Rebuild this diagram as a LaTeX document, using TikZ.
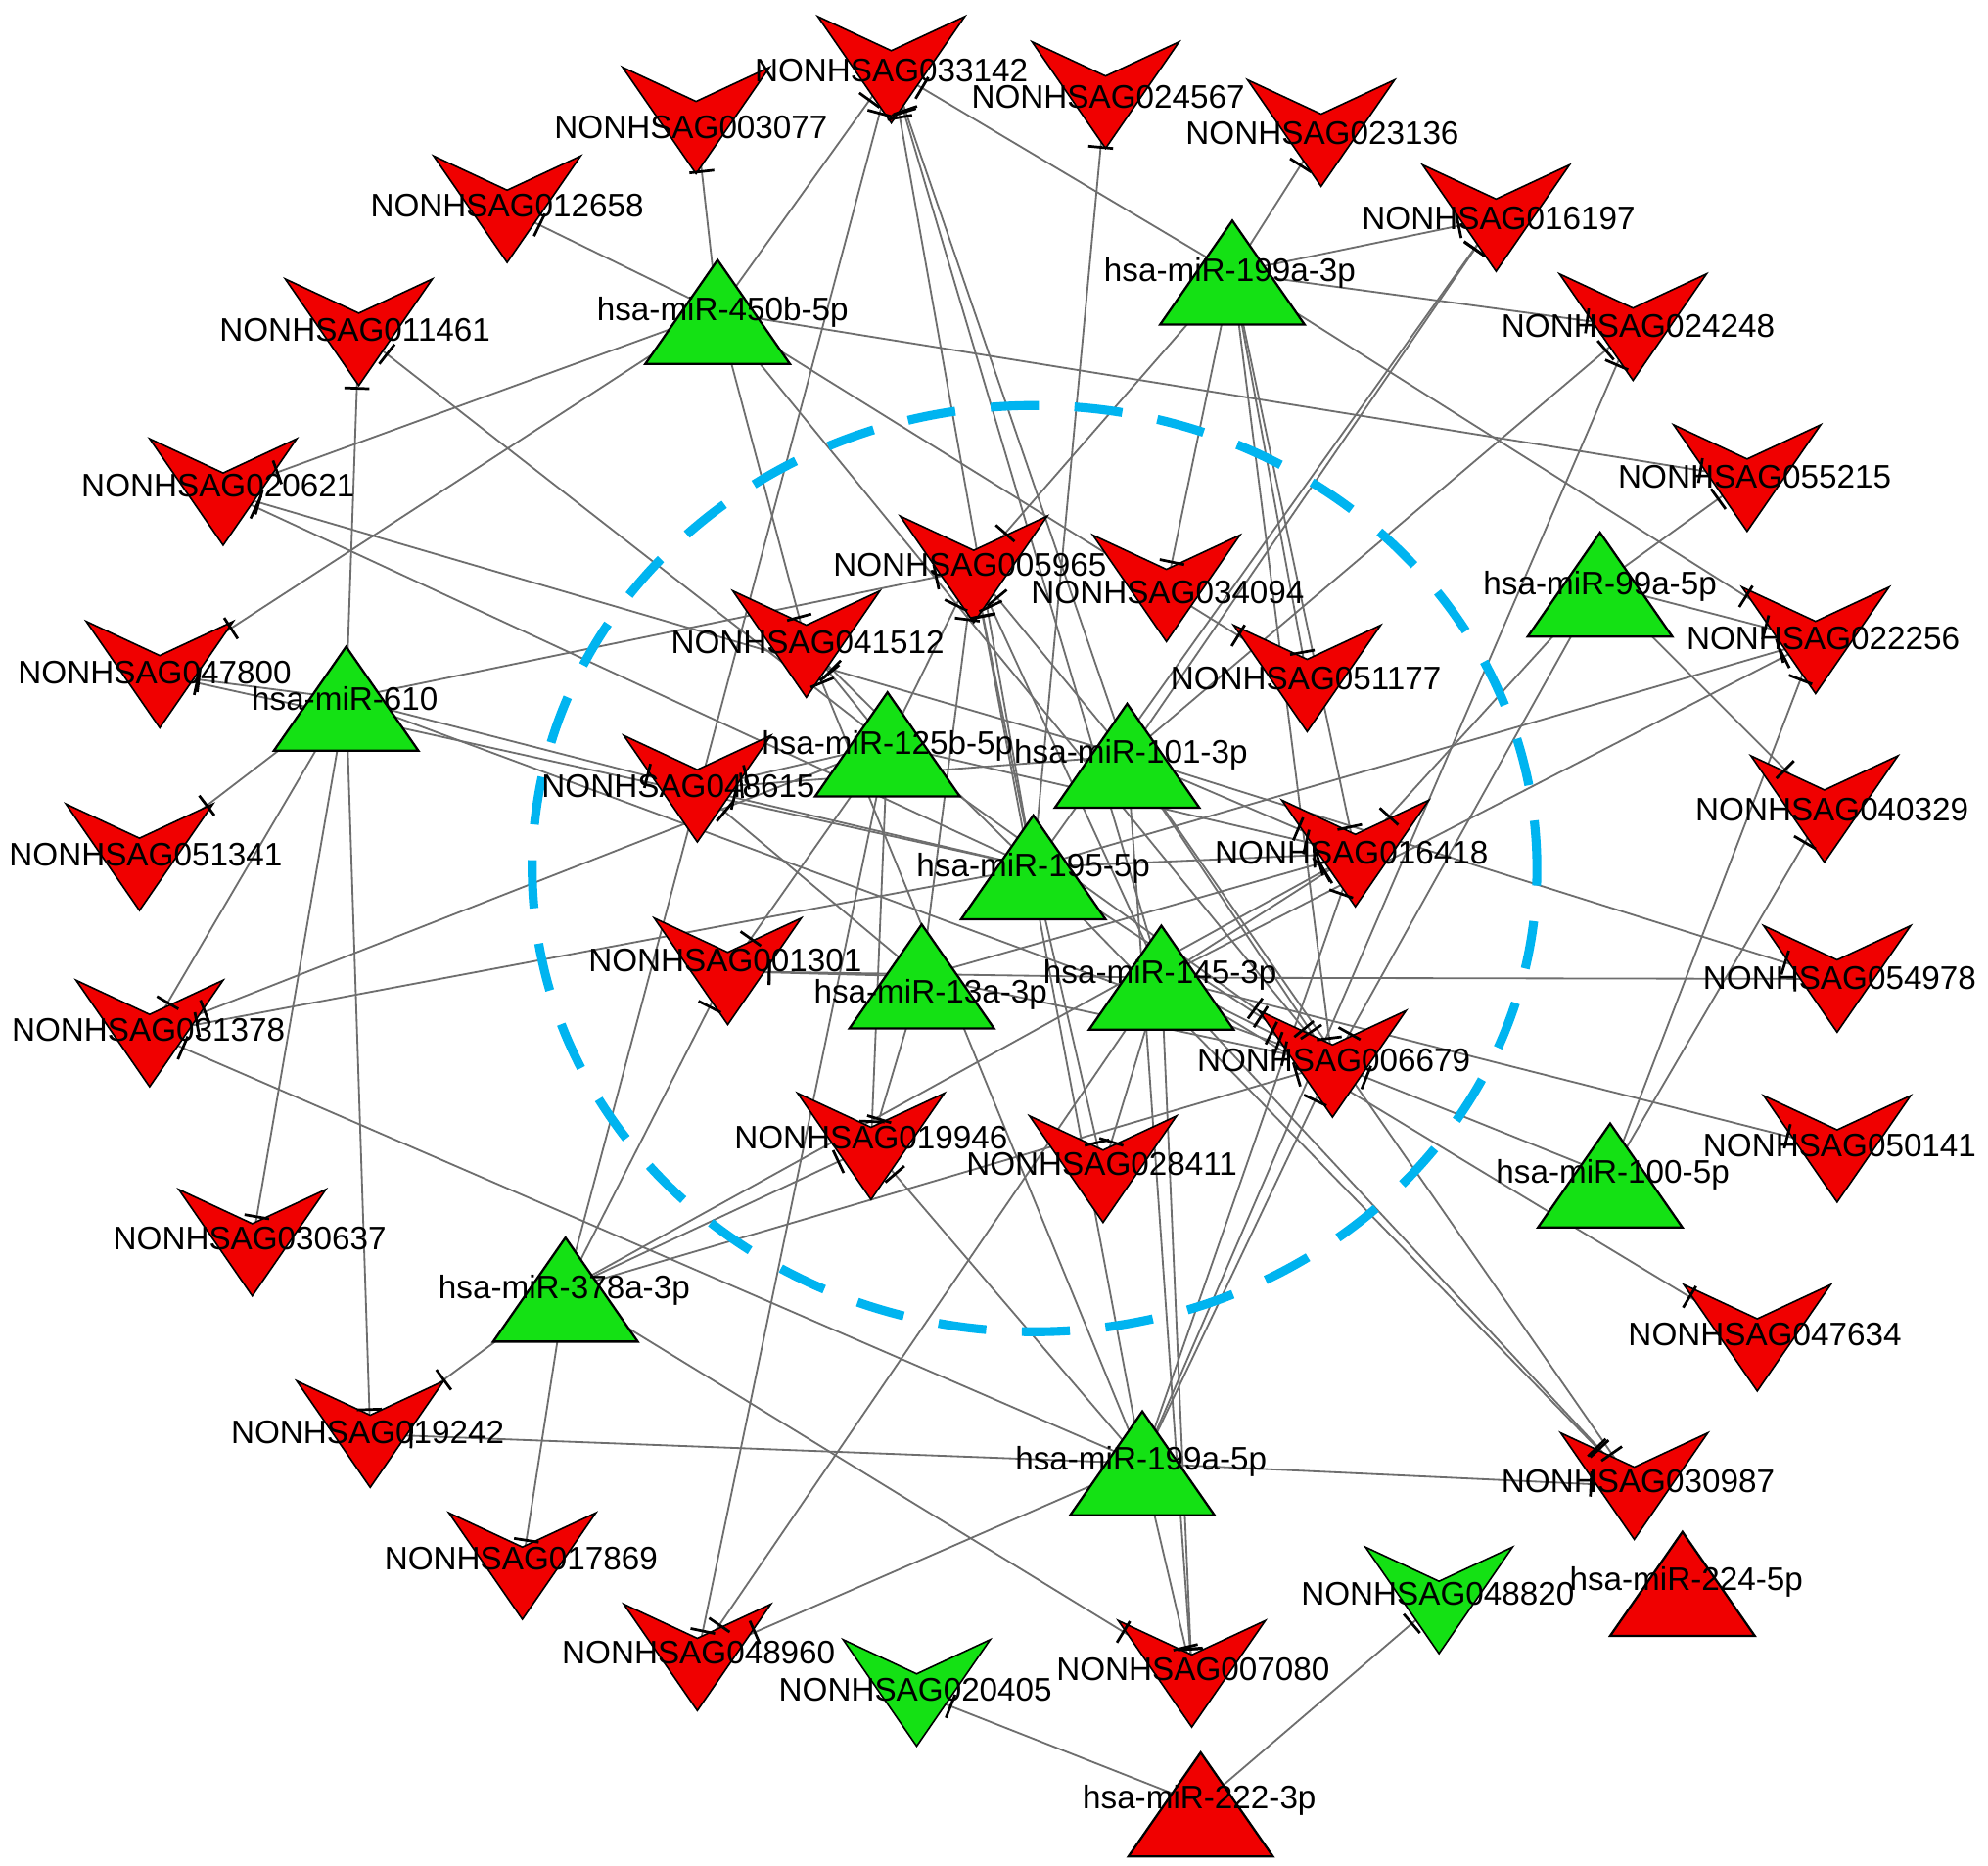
\documentclass[tikz,border=0pt]{standalone}
\usepackage{fontspec}
\setmainfont{Liberation Sans}
\usetikzlibrary{calc,intersections}
\pgfdeclarelayer{bg}\pgfdeclarelayer{fg}\pgfdeclarelayer{top}
\pgfsetlayers{bg,main,fg,top}
\definecolor{vred}{RGB}{240,0,0}
\definecolor{tgreen}{RGB}{20,225,20}
\definecolor{edgegray}{RGB}{110,110,110}
\definecolor{circblue}{RGB}{0,180,240}
\tikzset{
  vshape/.style={draw=black, line width=0.35pt, line join=miter},
  tshape/.style={draw=black, line width=0.5pt, line join=miter},
  edgeline/.style={draw=edgegray, line width=0.4pt},
  tbar/.style={draw=black, line width=0.6pt},
  lbl/.style={inner sep=0pt, font=\fontsize{7.3}{8.8}\selectfont, text height=5.2pt, text depth=0pt},
  circ/.style={draw=circblue, line width=2pt, dash pattern=on 10.8pt off 8pt},
}
\newcommand\lnk[2]{%
  \path[name path=tmpe] (#1) -- (#2);
  \path[name intersections={of=tmpe and out-#2, sort by=tmpe, by={ip}}];
  \coordinate (ipc) at ($(ip)!1.2pt!(#1)$);
  \begin{pgfonlayer}{bg}\draw[edgeline] (#1) -- (#2);\end{pgfonlayer}
  \begin{pgfonlayer}{fg}\draw[tbar] ($(ipc)!2.8pt!90:(#1)$) -- ($(ipc)!2.8pt!-90:(#1)$);\end{pgfonlayer}
}
\begin{document}
\begin{tikzpicture}[x=0.01cm,y=-0.01cm]
\useasboundingbox (0,0) rectangle (1568,1471);
\begin{pgfonlayer}{bg}\fill[white] (0,0) rectangle (1568,1471);\end{pgfonlayer}
% lncRNA nodes
\coordinate (a033142) at (703,55);
\coordinate (a024567) at (872,75);
\coordinate (a003077) at (549,95);
\coordinate (a023136) at (1042,105);
\coordinate (a012658) at (400,165);
\coordinate (a016197) at (1180,172);
\coordinate (a011461) at (283,262);
\coordinate (a024248) at (1288,258);
\coordinate (a020621) at (176,388);
\coordinate (a055215) at (1378,377);
\coordinate (a005965) at (768,449);
\coordinate (a034094) at (920,464);
\coordinate (a041512) at (636,508);
\coordinate (a051177) at (1031,535);
\coordinate (a047800) at (126,532);
\coordinate (a022256) at (1432,505);
\coordinate (a048615) at (550,622);
\coordinate (a051341) at (110,676);
\coordinate (a040329) at (1439,638);
\coordinate (a016418) at (1069,673);
\coordinate (a001301) at (574,766);
\coordinate (a054978) at (1449,772);
\coordinate (a031378) at (118,815);
\coordinate (a006679) at (1051,839);
\coordinate (a050141) at (1449,906);
\coordinate (a019946) at (687,904);
\coordinate (a028411) at (870,922);
\coordinate (a030637) at (199,980);
\coordinate (a047634) at (1386,1055);
\coordinate (a019242) at (292,1131);
\coordinate (a030987) at (1289,1172);
\coordinate (a017869) at (412,1235);
\coordinate (a048960) at (550,1307);
\coordinate (a007080) at (940,1320);
\coordinate (a020405) at (723,1335);
\coordinate (a048820) at (1135,1262);
% miRNA nodes
\coordinate (m450b) at (566,246);
\coordinate (m199a3) at (972,215);
\coordinate (m99a) at (1262,461);
\coordinate (m610) at (273,551);
\coordinate (m125b) at (700,587);
\coordinate (m101) at (889,596);
\coordinate (m195) at (815,684);
\coordinate (m13a) at (727,770);
\coordinate (m145) at (916,771);
\coordinate (m100) at (1270,927);
\coordinate (m378a) at (446,1017);
\coordinate (m199a5) at (901,1154);
\coordinate (m224) at (1327,1249);
\coordinate (m222) at (947,1423);
% dashed circle
\draw[circ] (816,685) ellipse [x radius=3.96cm, y radius=3.65cm];
% shapes
\foreach \n/\c in {a033142/vred,a024567/vred,a003077/vred,a023136/vred,a012658/vred,
  a016197/vred,a011461/vred,a024248/vred,a020621/vred,a055215/vred,a005965/vred,
  a034094/vred,a041512/vred,a051177/vred,a047800/vred,a022256/vred,a048615/vred,
  a051341/vred,a040329/vred,a016418/vred,a001301/vred,a054978/vred,a031378/vred,
  a006679/vred,a050141/vred,a019946/vred,a028411/vred,a030637/vred,a047634/vred,
  a019242/vred,a030987/vred,a017869/vred,a048960/vred,a007080/vred,
  a020405/tgreen,a048820/tgreen}
  \filldraw[vshape, fill=\c, name path global=out-\n, shift={(\n)}]
    (-58,-42) -- (0,-15) -- (58,-42) -- (0,42) -- cycle;
\foreach \n/\c in {m450b/tgreen,m199a3/tgreen,m99a/tgreen,m610/tgreen,m125b/tgreen,
  m101/tgreen,m195/tgreen,m13a/tgreen,m145/tgreen,m100/tgreen,m378a/tgreen,
  m199a5/tgreen,m224/vred,m222/vred}
  \filldraw[tshape, fill=\c, shift={(\n)}] (-57,41) -- (0,-41) -- (57,41) -- cycle;
% connectors
\foreach \s/\t in {
  m450b/a003077,m450b/a012658,m450b/a033142,m450b/a020621,m450b/a047800,m450b/a041512,
  m450b/a006679,m450b/a051177,m450b/a055215,
  m199a3/a033142,m199a3/a023136,m199a3/a016197,m199a3/a024248,m199a3/a022256,
  m199a3/a005965,m199a3/a034094,m199a3/a051177,m199a3/a016418,m199a3/a006679,
  m99a/a055215,m99a/a022256,m99a/a040329,m99a/a016418,m99a/a006679,
  m610/a011461,m610/a047800,m610/a051341,m610/a031378,m610/a030637,m610/a019242,
  m610/a005965,m610/a006679,m610/a048615,
  m125b/a011461,m125b/a041512,m125b/a031378,m125b/a048960,m125b/a048615,m125b/a005965,
  m125b/a016418,m125b/a006679,m125b/a019946,m125b/a001301,
  m101/a020621,m101/a016197,m101/a033142,m101/a054978,m101/a030987,m101/a007080,
  m101/a005965,m101/a016418,m101/a006679,m101/a048615,m101/a024248,
  m195/a020621,m195/a033142,m195/a024567,m195/a016197,m195/a022256,m195/a031378,
  m195/a047800,m195/a030987,m195/a005965,m195/a016418,m195/a006679,m195/a048615,
  m195/a041512,m195/a028411,
  m13a/a005965,m13a/a016418,m13a/a006679,m13a/a019946,m13a/a001301,m13a/a048615,
  m145/a033142,m145/a054978,m145/a050141,m145/a047634,m145/a048960,m145/a007080,
  m145/a022256,m145/a030987,m145/a016418,m145/a006679,m145/a028411,m145/a005965,
  m145/a001301,
  m100/a022256,m100/a040329,m100/a006679,
  m378a/a033142,m378a/a017869,m378a/a019242,m378a/a007080,m378a/a001301,
  m378a/a019946,m378a/a016418,m378a/a006679,
  m199a5/a031378,m199a5/a019242,m199a5/a048960,m199a5/a030987,m199a5/a007080,
  m199a5/a019946,m199a5/a041512,m199a5/a005965,m199a5/a016418,m199a5/a006679,
  m199a5/a024248,
  m222/a020405,m222/a048820}
  {\lnk{\s}{\t}}
% labels
\begin{pgfonlayer}{top}
\foreach \n/\x/\y/\t in {
  a033142/703/55/NONHSAG033142, a024567/874/76/NONHSAG024567, a003077/545/100/NONHSAG003077,
  a023136/1043/105/NONHSAG023136, a012658/400/162/NONHSAG012658, a016197/1182/172/NONHSAG016197,
  a011461/280/260/NONHSAG011461, a024248/1292/257/NONHSAG024248, a020621/172/383/NONHSAG020621,
  a055215/1384/376/NONHSAG055215, a005965/765/445/NONHSAG005965, a034094/921/467/NONHSAG034094,
  a041512/637/506/NONHSAG041512, a051177/1030/535/NONHSAG051177, a047800/122/530/NONHSAG047800,
  a022256/1438/503/NONHSAG022256, a048615/535/620/NONHSAG048615, a051341/115/674/NONHSAG051341,
  a040329/1445/638/NONHSAG040329, a016418/1066/672/NONHSAG016418, a001301/572/757/NONHSAG001301,
  a054978/1451/771/NONHSAG054978, a031378/117/812/NONHSAG031378, a006679/1052/836/NONHSAG006679,
  a050141/1451/903/NONHSAG050141, a019946/687/897/NONHSAG019946, a028411/869/918/NONHSAG028411,
  a030637/197/976/NONHSAG030637, a047634/1392/1052/NONHSAG047634, a019242/290/1129/NONHSAG019242,
  a030987/1292/1168/NONHSAG030987, a017869/411/1229/NONHSAG017869, a048960/551/1303/NONHSAG048960,
  a007080/941/1316/NONHSAG007080, a020405/722/1332/NONHSAG020405, a048820/1134/1257/NONHSAG048820,
  m450b/570/244/hsa-miR-450b-5p, m199a3/970/213/hsa-miR-199a-3p, m99a/1262/460/hsa-miR-99a-5p,
  m610/272/551/hsa-miR-610, m125b/700/586/hsa-miR-125b-5p, m101/892/593/hsa-miR-101-3p,
  m195/815/682/hsa-miR-195-5p, m13a/734/782/hsa-miR-13a-3p, m145/915/766/hsa-miR-145-3p,
  m100/1272/924/hsa-miR-100-5p, m378a/445/1015/hsa-miR-378a-3p, m199a5/900/1150/hsa-miR-199a-5p,
  m224/1330/1245/hsa-miR-224-5p, m222/946/1417/hsa-miR-222-3p}
  \node[lbl] (l-\n) at (\x,\y) {\t};
\end{pgfonlayer}
\end{tikzpicture}
\end{document}
